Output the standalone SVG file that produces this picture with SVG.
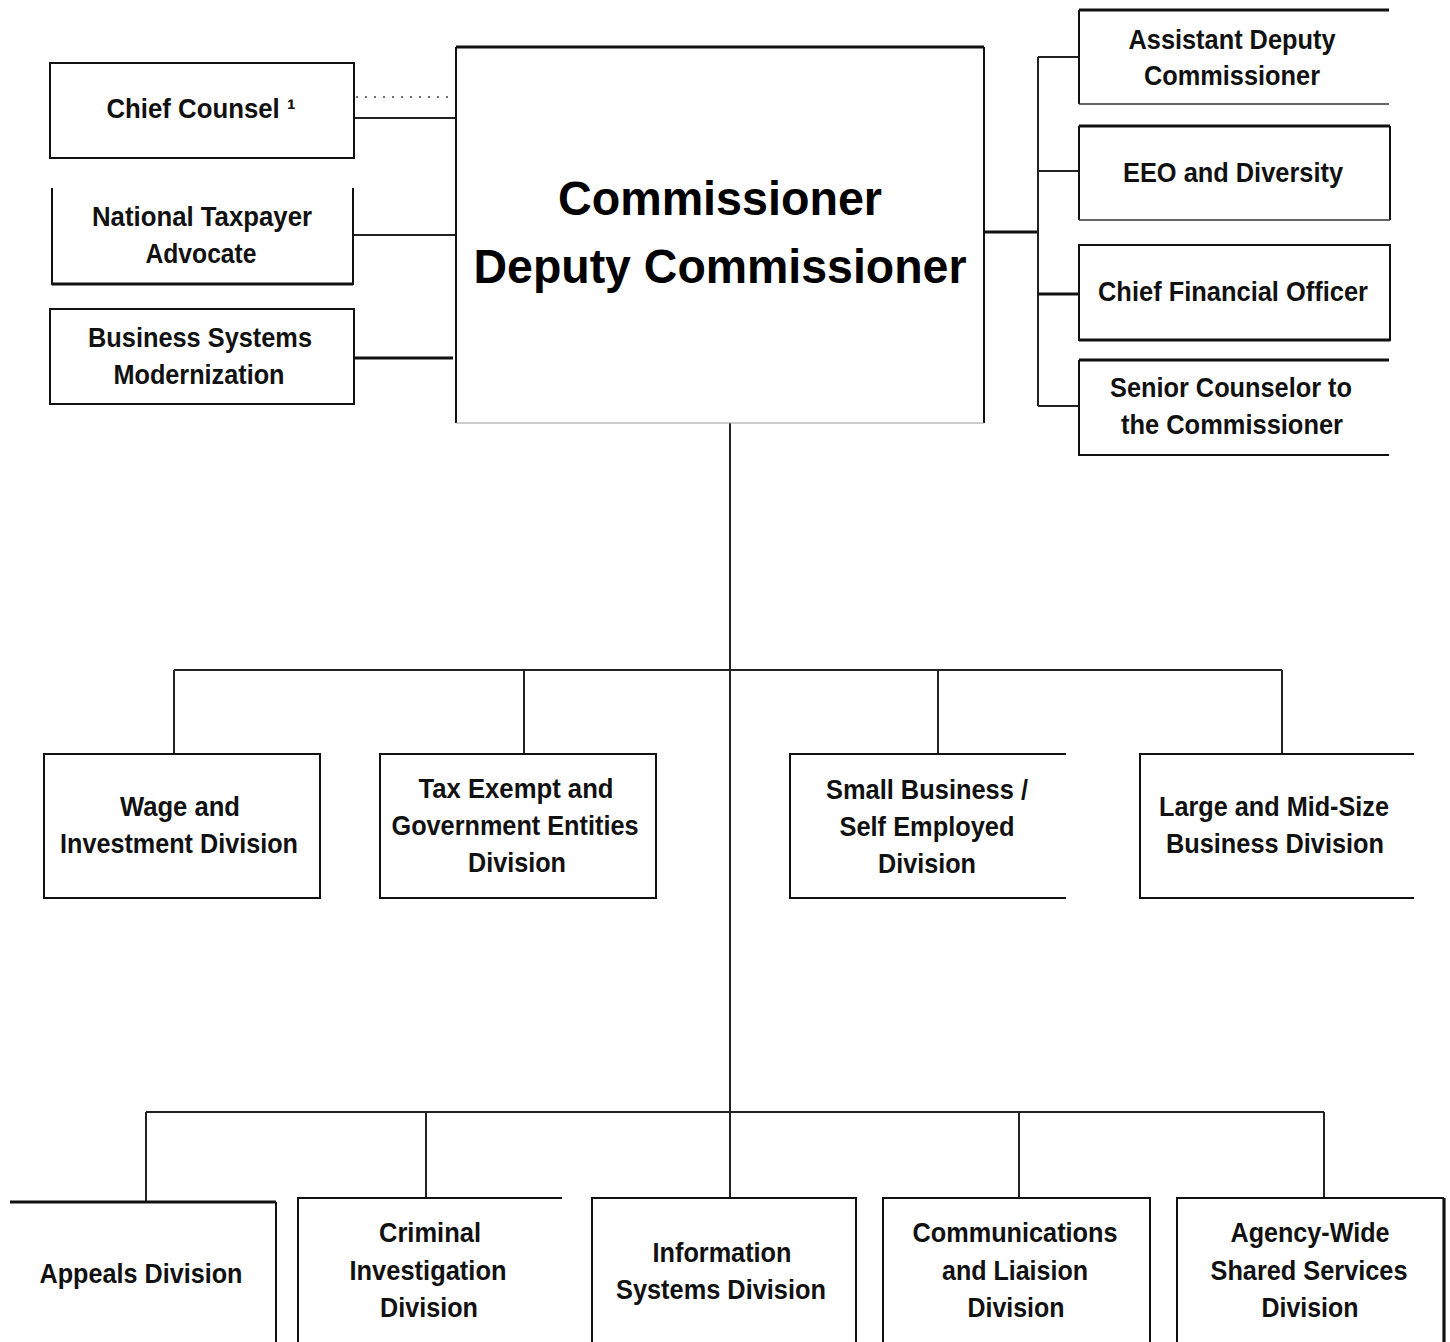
<svg xmlns="http://www.w3.org/2000/svg" width="1450" height="1342" viewBox="0 0 1450 1342">
<style>
.bx{fill:none;stroke:#111;stroke-width:2}
.th{fill:none;stroke:#111;stroke-width:3.2}
.ln{fill:none;stroke:#222;stroke-width:2}
.dot{fill:none;stroke:#444;stroke-width:1.6;stroke-dasharray:2 7}
.t{font-family:"Liberation Sans",Arial,sans-serif;font-weight:bold;font-size:28px;fill:#111;text-anchor:middle}
.big{font-family:"Liberation Sans",Arial,sans-serif;font-weight:bold;font-size:49px;fill:#000;text-anchor:middle}
</style>
<rect width="1450" height="1342" fill="#fff"/>
<g id="connectors">
<path class="dot" d="M356,97 H455"/>
<path class="ln" d="M354,118 H456 M354,235 H456"/>
<path class="th" d="M354,358 H453"/>
<path class="th" d="M984,232 H1038"/>
<path class="ln" d="M1038,57 V406 M1038,57 H1079 M1038,171 H1079 M1038,406 H1079"/>
<path class="th" d="M1038,294 H1079"/>
<path class="ln" d="M730,423 V1198"/>
<path class="ln" d="M174,670 H1282 M174,670 V754 M524,670 V754 M938,670 V754 M1282,670 V754"/>
<path class="ln" d="M146,1112 H1324 M146,1112 V1202 M426,1112 V1198 M1019,1112 V1198 M1324,1112 V1198"/>
</g>
<g id="commissioner">
<path class="bx" d="M456,47 V423 M984,47 V423"/>
<path fill="none" stroke="#999" stroke-width="1" d="M456,423 H984"/>
<path class="th" d="M456,47 H984"/>
<text class="big" x="720" y="215" textLength="324" lengthAdjust="spacingAndGlyphs">Commissioner</text>
<text class="big" x="720" y="283" textLength="493" lengthAdjust="spacingAndGlyphs">Deputy Commissioner</text>
</g>
<g id="chief-counsel">
<rect class="bx" x="50" y="63" width="304" height="95"/>
<text class="t" x="201" y="118" textLength="189" lengthAdjust="spacingAndGlyphs">Chief Counsel ¹</text>
</g>
<g id="national-taxpayer-advocate">
<path class="bx" d="M52,188 V284 H353 V188"/>
<path class="th" d="M52,284 H353"/>
<text class="t" x="202" y="226" textLength="220" lengthAdjust="spacingAndGlyphs">National Taxpayer</text>
<text class="t" x="201" y="263" textLength="111" lengthAdjust="spacingAndGlyphs">Advocate</text>
</g>
<g id="business-systems-modernization">
<rect class="bx" x="50" y="309" width="304" height="95"/>
<text class="t" x="200" y="347" textLength="224" lengthAdjust="spacingAndGlyphs">Business Systems</text>
<text class="t" x="199" y="384" textLength="171" lengthAdjust="spacingAndGlyphs">Modernization</text>
</g>
<g id="assistant-deputy-commissioner">
<path class="bx" d="M1079,10 V104"/>
<path class="th" d="M1079,10 H1389"/>
<path fill="none" stroke="#333" stroke-width="1.4" d="M1079,104 H1389"/>
<text class="t" x="1232" y="49" textLength="207" lengthAdjust="spacingAndGlyphs">Assistant Deputy</text>
<text class="t" x="1232" y="85" textLength="176" lengthAdjust="spacingAndGlyphs">Commissioner</text>
</g>
<g id="eeo-diversity">
<path class="bx" d="M1079,126 V220 M1390,126 V220"/>
<path fill="none" stroke="#333" stroke-width="1.4" d="M1079,220 H1390"/>
<path class="th" d="M1079,126 H1390"/>
<text class="t" x="1233" y="182" textLength="220" lengthAdjust="spacingAndGlyphs">EEO and Diversity</text>
</g>
<g id="chief-financial-officer">
<rect class="bx" x="1079" y="245" width="311" height="95"/>
<path class="th" d="M1079,340 H1390"/>
<text class="t" x="1233" y="301" textLength="270" lengthAdjust="spacingAndGlyphs">Chief Financial Officer</text>
</g>
<g id="senior-counselor">
<path class="bx" d="M1079,360 V455 H1389"/>
<path class="th" d="M1079,360 H1389"/>
<text class="t" x="1231" y="397" textLength="242" lengthAdjust="spacingAndGlyphs">Senior Counselor to</text>
<text class="t" x="1232" y="434" textLength="222" lengthAdjust="spacingAndGlyphs">the Commissioner</text>
</g>
<g id="wage-investment">
<rect class="bx" x="44" y="754" width="276" height="144"/>
<text class="t" x="180" y="816" textLength="120" lengthAdjust="spacingAndGlyphs">Wage and</text>
<text class="t" x="179" y="853" textLength="238" lengthAdjust="spacingAndGlyphs">Investment Division</text>
</g>
<g id="tax-exempt">
<rect class="bx" x="380" y="754" width="276" height="144"/>
<text class="t" x="516" y="798" textLength="195" lengthAdjust="spacingAndGlyphs">Tax Exempt and</text>
<text class="t" x="515" y="835" textLength="247" lengthAdjust="spacingAndGlyphs">Government Entities</text>
<text class="t" x="517" y="872" textLength="98" lengthAdjust="spacingAndGlyphs">Division</text>
</g>
<g id="small-business">
<path class="bx" d="M1066,754 H790 V898 H1066"/>
<text class="t" x="927" y="799" textLength="202" lengthAdjust="spacingAndGlyphs">Small Business /</text>
<text class="t" x="927" y="836" textLength="175" lengthAdjust="spacingAndGlyphs">Self Employed</text>
<text class="t" x="927" y="873" textLength="98" lengthAdjust="spacingAndGlyphs">Division</text>
</g>
<g id="large-mid-size">
<path class="bx" d="M1414,754 H1140 V898 H1414"/>
<text class="t" x="1274" y="816" textLength="230" lengthAdjust="spacingAndGlyphs">Large and Mid-Size</text>
<text class="t" x="1275" y="853" textLength="218" lengthAdjust="spacingAndGlyphs">Business Division</text>
</g>
<g id="appeals">
<path class="th" d="M10,1202 H276"/>
<path class="bx" d="M276,1202 V1342"/>
<text class="t" x="141" y="1283" textLength="203" lengthAdjust="spacingAndGlyphs">Appeals Division</text>
</g>
<g id="criminal-investigation">
<path class="bx" d="M562,1198 H298 V1342"/>
<text class="t" x="430" y="1242" textLength="102" lengthAdjust="spacingAndGlyphs">Criminal</text>
<text class="t" x="428" y="1280" textLength="157" lengthAdjust="spacingAndGlyphs">Investigation</text>
<text class="t" x="429" y="1317" textLength="98" lengthAdjust="spacingAndGlyphs">Division</text>
</g>
<g id="information-systems">
<path class="bx" d="M592,1342 V1198 H856 V1342"/>
<text class="t" x="722" y="1262" textLength="139" lengthAdjust="spacingAndGlyphs">Information</text>
<text class="t" x="721" y="1299" textLength="210" lengthAdjust="spacingAndGlyphs">Systems Division</text>
</g>
<g id="communications-liaison">
<path class="bx" d="M883,1342 V1198 H1150 V1342"/>
<text class="t" x="1015" y="1242" textLength="205" lengthAdjust="spacingAndGlyphs">Communications</text>
<text class="t" x="1015" y="1280" textLength="146" lengthAdjust="spacingAndGlyphs">and Liaision</text>
<text class="t" x="1016" y="1317" textLength="97" lengthAdjust="spacingAndGlyphs">Division</text>
</g>
<g id="agency-wide-shared-services">
<path class="bx" d="M1177,1342 V1198 H1444"/>
<path class="th" d="M1444,1198 V1342"/>
<text class="t" x="1310" y="1242" textLength="159" lengthAdjust="spacingAndGlyphs">Agency-Wide</text>
<text class="t" x="1309" y="1280" textLength="197" lengthAdjust="spacingAndGlyphs">Shared Services</text>
<text class="t" x="1310" y="1317" textLength="97" lengthAdjust="spacingAndGlyphs">Division</text>
</g>
</svg>
